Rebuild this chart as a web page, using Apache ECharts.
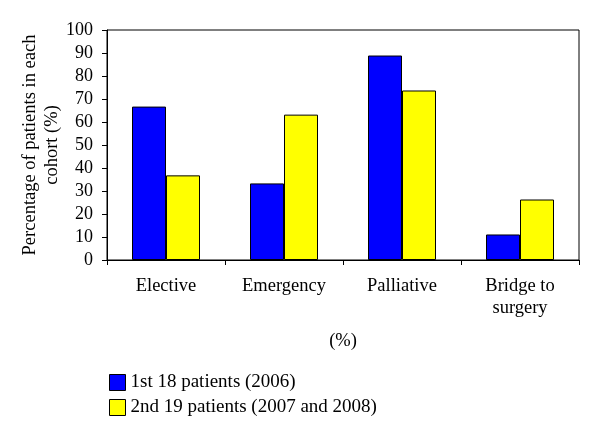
<!DOCTYPE html>
<html>
<head>
<meta charset="utf-8">
<script src="https://cdn.jsdelivr.net/npm/echarts@6/dist/echarts.min.js"></script>
<style>
  html, body { margin: 0; padding: 0; background: #fff; }
  #chart { width: 600px; height: 433px; }
</style>
</head>
<body>
<div id="chart"></div>
<script>
const categories = ['Elective', 'Emergency', 'Palliative', 'Bridge to\nsurgery']
const firstCohort = [66.7, 33.3, 88.9, 11.1]
const secondCohort = [36.8, 63.2, 73.7, 26.3]
const seriesNames = ['1st 18 patients (2006)', '2nd 19 patients (2007 and 2008)']

const font = 'Liberation Serif'
const chart = echarts.init(document.getElementById('chart'))

chart.setOption({
  animation: false,
  textStyle: { fontFamily: font, color: '#000' },
  grid: {
    left: 107,
    right: 21,
    top: 30,
    height: 230,
    outerBoundsMode: 'none',
    containLabel: false,
    show: true,
    borderColor: '#000',
    borderWidth: 1,
  },
  legend: {
    orient: 'vertical',
    left: 104,
    top: 368,
    itemWidth: 16,
    itemHeight: 16,
    itemGap: 6,
    icon: 'rect',
    textStyle: { fontFamily: font, fontSize: 19, color: '#000' },
    itemStyle: { borderColor: '#000', borderWidth: 1 },
    data: seriesNames,
  },
  xAxis: {
    type: 'category',
    data: categories,
    name: '(%)',
    nameLocation: 'middle',
    nameGap: 72,
    nameMoveOverlap: false,
    nameTextStyle: { fontFamily: font, fontSize: 18.5, color: '#000' },
    axisLine: { lineStyle: { color: '#000', width: 1 } },
    axisTick: { show: true, length: 5, inside: false, lineStyle: { color: '#000' } },
    axisLabel: { fontFamily: font, fontSize: 18.5, color: '#000', margin: 15, lineHeight: 22 },
  },
  yAxis: {
    type: 'value',
    min: 0,
    max: 100,
    interval: 10,
    name: 'Percentage of patients in each\ncohort (%)',
    nameLocation: 'middle',
    nameGap: 44,
    nameMoveOverlap: false,
    nameRotate: 90,
    nameTextStyle: { fontFamily: font, fontSize: 18.5, color: '#000', lineHeight: 22 },
    splitLine: { show: false },
    axisLine: { show: true, lineStyle: { color: '#000', width: 1 } },
    axisTick: { show: true, length: 5, lineStyle: { color: '#000' } },
    axisLabel: { fontFamily: font, fontSize: 18, color: '#000', margin: 14 },
  },
  series: [
    {
      name: seriesNames[0],
      type: 'bar',
      data: firstCohort,
      barWidth: 34,
      barGap: '0%',
      itemStyle: { color: '#0000ff', borderColor: '#000', borderWidth: 1 },
    },
    {
      name: seriesNames[1],
      type: 'bar',
      data: secondCohort,
      barWidth: 34,
      barGap: '0%',
      itemStyle: { color: '#ffff00', borderColor: '#000', borderWidth: 1 },
    },
  ],
})
</script>
</body>
</html>
